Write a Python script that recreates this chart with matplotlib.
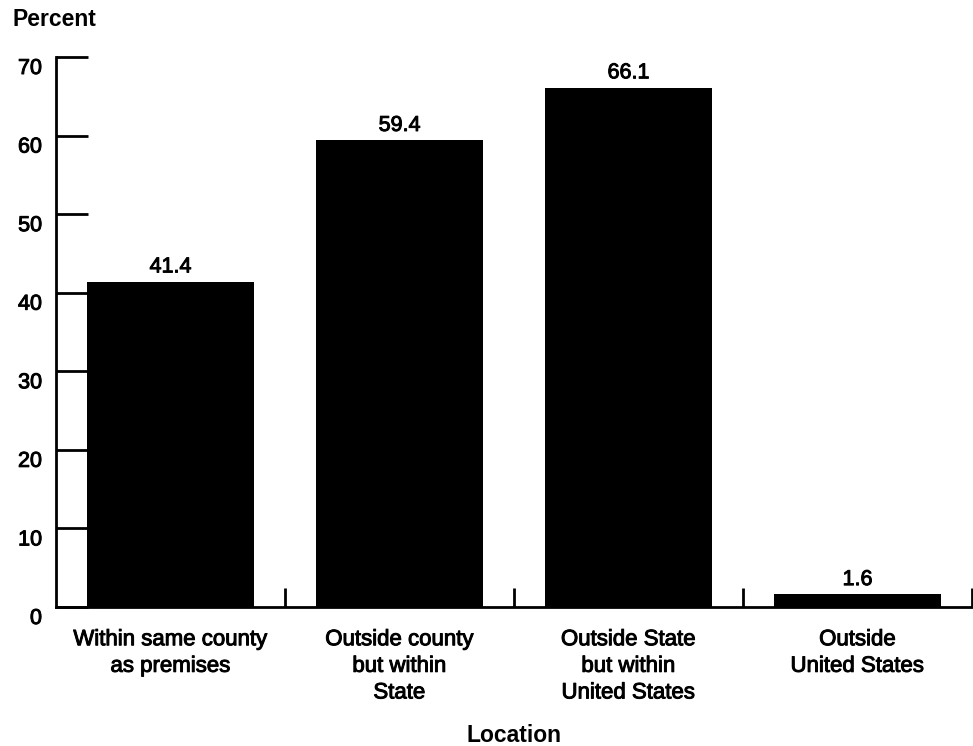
import matplotlib
matplotlib.use("Agg")
import matplotlib.pyplot as plt
import matplotlib.transforms as mtrans
import matplotlib.patheffects as pe
import numpy as np

categories = ["Within same county\nas premises", "Outside county\nbut within\nState",
              "Outside State\nbut within\nUnited States", "Outside\nUnited States"]
values = [41.4, 59.4, 66.1, 1.6]
value_labels = ["41.4", "59.4", "66.1", "1.6"]
yticks = [0, 10, 20, 30, 40, 50, 60, 70]

plt.rcParams['font.family'] = ['Liberation Sans', 'DejaVu Sans']
thick = [pe.withStroke(linewidth=0.7, foreground='black')]

fig = plt.figure(figsize=(9.73, 7.46), dpi=100)
ax = fig.add_axes([56/973, 1-607/746, 916/973, 550/746])
x = np.arange(len(categories))
ax.bar(x, values, width=0.725, color='black')
ax.set_xlim(-0.5, 3.5)
ax.set_ylim(0, 70)
for xi, v, lab in zip(x, values, value_labels):
    ax.text(xi, v + 0.55, lab, ha='center', va='bottom', fontsize=15.5, path_effects=thick)

for s in ['top', 'right']:
    ax.spines[s].set_visible(False)
for s in ['left', 'bottom']:
    ax.spines[s].set_linewidth(2)

ax.set_yticks(yticks)
ax.set_yticklabels([str(t) for t in yticks], fontsize=15.5)
ax.tick_params(axis='y', direction='in', length=23, width=2, pad=10)
off = mtrans.ScaledTranslation(0, -9/100, fig.dpi_scale_trans)
for t in ax.get_yticklabels():
    t.set_transform(t.get_transform() + off)
    t.set_path_effects(thick)

ax.set_xticks(x)
ax.set_xticklabels(categories, fontsize=16, linespacing=1.35)
ax.tick_params(axis='x', length=0, pad=16)
for t in ax.get_xticklabels():
    t.set_path_effects(thick)
ax.set_xticks([0.5, 1.5, 2.5, 3.5], minor=True)
ax.tick_params(axis='x', which='minor', direction='in', length=14, width=2)

fig.text(12/973, 1-20/746, "Percent", fontsize=16.5, fontweight='bold', va='center', ha='left')
fig.text(514/973, 1-735/746, "Location", fontsize=16.5, fontweight='bold', va='center', ha='center')

fig.savefig("out.png", dpi=100)
